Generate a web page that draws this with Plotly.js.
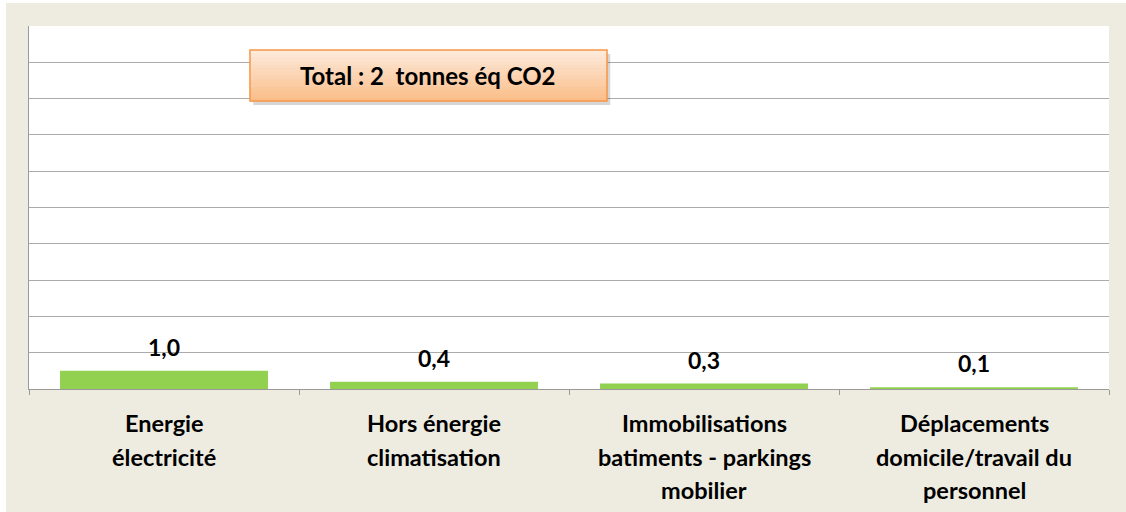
<!DOCTYPE html>
<html>
<head>
<meta charset="utf-8">
<script src="https://cdn.plot.ly/plotly-3.0.1.min.js"></script>
<style>
  body { margin: 0; padding: 0; background: #ffffff; }
  #chart { width: 1126px; height: 512px; }
</style>
</head>
<body>
<div id="chart"></div>
<script>
var categories = ["Energie électricité", "Hors énergie climatisation", "Immobilisations batiments - parkings mobilier", "Déplacements domicile/travail du personnel"];
var categoryLines = [
  ["Energie", "électricité"],
  ["Hors énergie", "climatisation"],
  ["Immobilisations", "batiments - parkings", "mobilier"],
  ["Déplacements", "domicile/travail du", "personnel"]
];
var emissions = [1.0, 0.4, 0.3, 0.1];
var totalText = "Total : 2  tonnes éq CO2";

var font = "Lato, 'Open Sans', sans-serif";

var trace = {
  x: categories,
  y: emissions,
  type: "bar",
  width: 0.77,
  marker: {color: "#92D050"},
  hoverinfo: "skip"
};

// value labels above bars
var annotations = emissions.map(function (v, i) {
  return {
    x: categories[i], y: v, xref: "x", yref: "y",
    text: "<b>" + v.toFixed(1).replace(".", ",") + "</b>",
    showarrow: false, yanchor: "middle", yshift: 24,
    font: {family: font, size: 23, color: "#000000"}
  };
});

// category labels, one annotation per line (Excel spacing)
categoryLines.forEach(function (lines, i) {
  lines.forEach(function (line, j) {
    annotations.push({
      x: categories[i], y: 0, xref: "x", yref: "paper",
      text: "<b>" + line + "</b>",
      showarrow: false, yanchor: "middle", yshift: -34 - 33.5 * j,
      font: {family: font, size: 23.5, color: "#000000"}
    });
  });
});

// total box text
annotations.push({
  x: 0.3699, y: 0.8636, xref: "paper", yref: "paper",
  text: "<b>" + totalText + "</b>",
  showarrow: false, xanchor: "center", yanchor: "middle",
  font: {family: font, size: 24, color: "#000000"}
});

// box with shadow + fake vertical gradient
var bx0 = 0.2046, bx1 = 0.5352, by0 = 0.7934, by1 = 0.9339;
var shapes = [
  {type: "rect", xref: "paper", yref: "paper", x0: -0.03, x1: -0.0213, y0: -0.4, y1: 1.1,
   fillcolor: "#ffffff", line: {width: 0}, layer: "below"},
  {type: "rect", xref: "paper", yref: "paper", x0: -0.03, x1: 1.03, y0: 1.0634, y1: 1.1,
   fillcolor: "#ffffff", line: {width: 0}, layer: "below"},
  {type: "rect", xref: "paper", yref: "paper", x0: bx0 + 0.003, x1: bx1 + 0.003, y0: by0 - 0.011, y1: by1 - 0.011,
   fillcolor: "rgba(0,0,0,0.16)", line: {width: 0}}
];
var gradTop = [253, 234, 218], gradBot = [251, 190, 138];
var n = 14;
for (var k = 0; k < n; k++) {
  var t = k / (n - 1);
  var c = gradTop.map(function (a, m) { return Math.round(a + (gradBot[m] - a) * t); });
  shapes.push({
    type: "rect", xref: "paper", yref: "paper", x0: bx0, x1: bx1,
    y1: by1 - (by1 - by0) * k / n, y0: by1 - (by1 - by0) * (k + 1) / n - 0.001,
    fillcolor: "rgb(" + c.join(",") + ")", line: {width: 0}
  });
}
shapes.push({type: "rect", xref: "paper", yref: "paper", x0: bx0, x1: bx1, y0: by0, y1: by1,
  fillcolor: "rgba(0,0,0,0)", line: {color: "#F79646", width: 1.5}});

var layout = {
  width: 1126, height: 512,
  margin: {l: 29, r: 17, t: 26, b: 123},
  paper_bgcolor: "#EEECE1",
  plot_bgcolor: "#ffffff",
  showlegend: false,
  separators: ", ",
  font: {family: font, size: 18, color: "#000000"},
  xaxis: {
    showticklabels: false,
    ticks: "outside", tickson: "boundaries", ticklen: 5, tickcolor: "#9a9a9a",
    showline: true, linecolor: "#9a9a9a", linewidth: 1,
    showgrid: false, fixedrange: true
  },
  yaxis: {
    range: [0, 20], dtick: 2, showticklabels: false,
    showgrid: true, gridcolor: "#ababab", gridwidth: 1,
    showline: true, linecolor: "#9a9a9a", linewidth: 1,
    zeroline: false, ticks: "", fixedrange: true
  },
  annotations: annotations,
  shapes: shapes
};

Plotly.newPlot("chart", [trace], layout, {displayModeBar: false, staticPlot: true});
</script>
</body>
</html>
